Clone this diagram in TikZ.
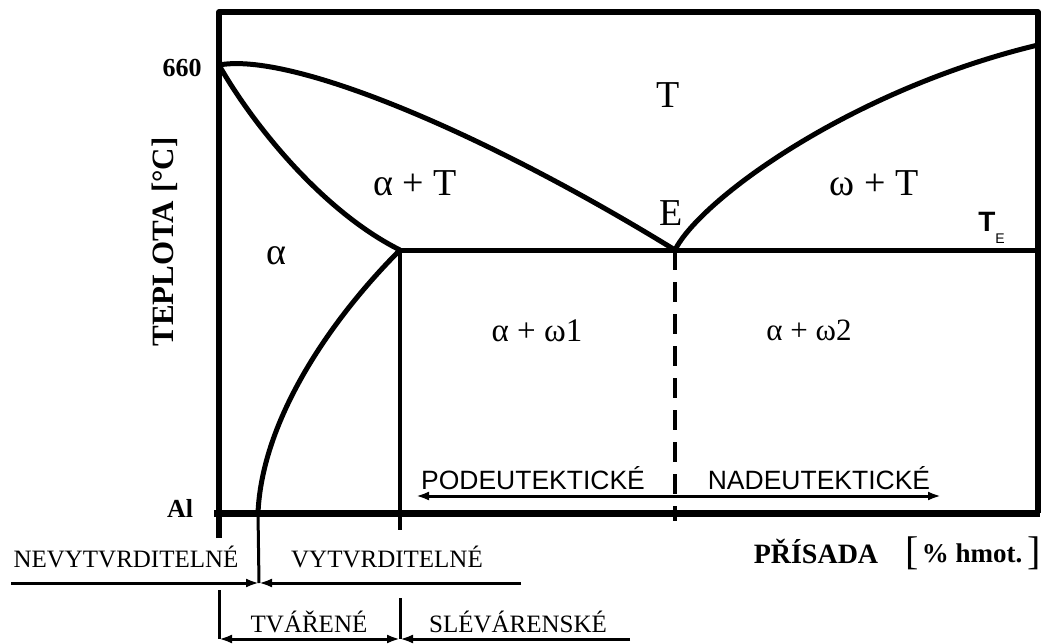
\documentclass[tikz,border=0pt]{standalone}
\usepackage{fontspec}
\setmainfont{Liberation Serif}
\newfontfamily\labelsans{Liberation Sans}
\usetikzlibrary{arrows.meta}

\begin{document}
\begin{tikzpicture}[x=1pt, y=-1pt, line join=round,
		>={Latex[length=13pt,width=9pt]},
		frame/.style={line width=5.5pt},
		curve/.style={line width=5pt},
		guide/.style={line width=3pt},
		phase/.style={inner sep=0pt, font=\fontsize{38}{40}\selectfont},
		region/.style={inner sep=0pt, font=\fontsize{33}{35}\selectfont},
		axislab/.style={inner sep=0pt, font=\bfseries\fontsize{26}{28}\selectfont},
		kind/.style={inner sep=0pt, font=\fontsize{25}{27}\selectfont},
		sanslab/.style={inner sep=0pt, font=\labelsans\fontsize{26.5}{28}\selectfont}]
		\useasboundingbox (0,0) rectangle (1042,643);
		% ---- frame ----
		\draw[frame] (219,538) -- (219,12) -- (1038,12) -- (1038,513);
		\draw[line width=7pt] (214,513) -- (1040,513);
		% ---- points of the diagram ----
		\coordinate (melt) at (219,65);
		\coordinate (lim) at (400,250);
		\coordinate (eut) at (675,250);
		\coordinate (edge) at (1038,45);
		\coordinate (tierend) at (1038,250);
		\coordinate (solvbase) at (258,513);
		\coordinate (solvend) at (259,583);
		\coordinate (limfoot) at (400,530);
		\coordinate (eutfoot) at (675,521);
		% ---- phase boundaries ----
		\draw[curve] (melt) .. controls (290,52) and (480,130) .. (eut);
		\draw[curve] (melt) .. controls (250,120) and (320,210) .. (lim);
		\draw[curve] (lim) .. controls (330,320) and (262,420) .. (solvbase);
		\draw[curve] (eut) .. controls (700,200) and (850,90) .. (edge);
		\draw[curve] (lim) -- (tierend);
		\draw[line width=4pt] (lim) -- (limfoot);
		\draw[line width=4pt, dash pattern=on 20pt off 12pt] (eut) -- (eutfoot);
		\draw[guide] (solvbase) -- (solvend);
		% ---- phase labels ----
		\node[phase] (liq) at (668,95) {T};
		\node[phase] (alT) at (415,183) {α + T};
		\node[phase] (omT) at (874,183) {ω + T};
		\node[phase] (Elab) at (671,213) {E};
		\node[phase] (al) at (276,256) {α};
		\node[region] (alom1) at (537,331) {α + ω1};
		\node[region, font=\fontsize{31}{33}\selectfont] (alom2) at (809,330) {α + ω2};
		\node[inner sep=0pt, font=\labelsans\bfseries\fontsize{28}{30}\selectfont] (TE) at (987,222) {T};
		\node[inner sep=0pt, font=\labelsans\fontsize{14}{15}\selectfont] (TEsub) at (1000,239) {E};
		% ---- axes ----
		\node[axislab] (top) at (182,68) {660};
		\node[axislab] (base) at (180,508) {Al};
		\node[axislab, rotate=90, font=\bfseries\fontsize{31}{33}\selectfont] (ylab) at (165,242) {TEPLOTA [°C]};
		\node[axislab, font=\bfseries\fontsize{28}{30}\selectfont] (xlab) at (816,551) {PŘÍSADA};
		\node[inner sep=0pt] (unit) at (973,553) {\fontsize{40}{40}\selectfont[\kern3pt\raisebox{2pt}{\bfseries\fontsize{27}{27}\selectfont\% hmot.}\kern5pt]};
		% ---- hypo / hyper eutectic ----
		\coordinate (eutmid) at (675,496);
		\coordinate (podL) at (416,496);
		\coordinate (nadR) at (941,496);
		\draw[guide, ->] (eutmid) -- (podL);
		\draw[guide, ->] (eutmid) -- (nadR);
		\node[sanslab] (pod) at (533,478) {PODEUTEKTICKÉ};
		\node[sanslab] (nad) at (819,478) {NADEUTEKTICKÉ};
		% ---- hardenable or not ----
		\coordinate (nevL) at (11,583);
		\coordinate (vytR) at (521,583);
		\draw[guide, ->] (nevL) -- (solvend);
		\draw[guide, ->] (vytR) -- (solvend);
		\node[kind] (nev) at (126,557) {NEVYTVRDITELNÉ};
		\node[kind] (vyt) at (387,557) {VYTVRDITELNÉ};
		% ---- wrought or cast ----
		\coordinate (twTop) at (219,590);
		\coordinate (twL) at (219,639);
		\coordinate (castTop) at (400,598);
		\coordinate (castmid) at (400,639);
		\coordinate (castR) at (630,639);
		\draw[guide] (twTop) -- (twL);
		\draw[guide] (castTop) -- (castmid);
		\draw[guide, <->] (twL) -- (castmid);
		\draw[guide, ->] (castR) -- (castmid);
		\node[kind] (tva) at (309,622) {TVÁŘENÉ};
		\node[kind] (sle) at (518,622) {SLÉVÁRENSKÉ};
	\end{tikzpicture}
\end{document}
